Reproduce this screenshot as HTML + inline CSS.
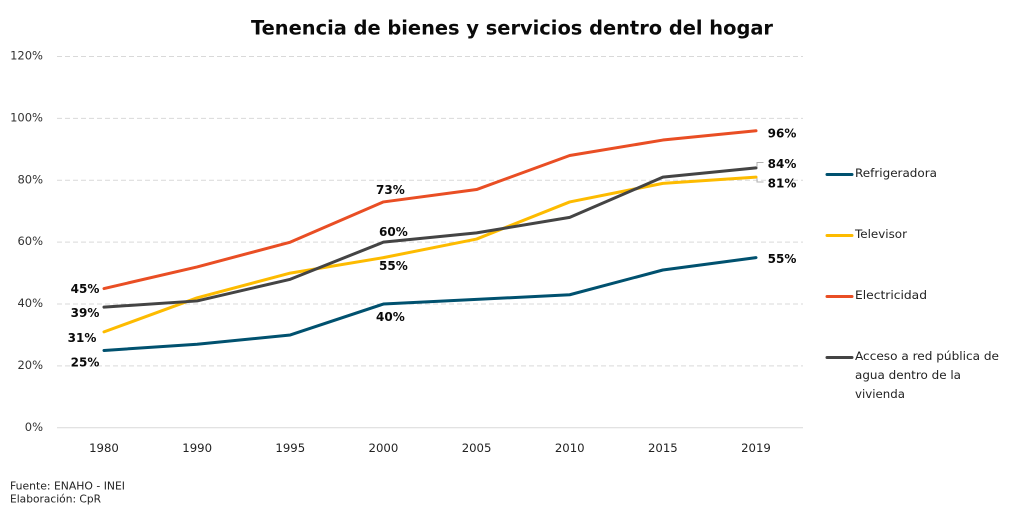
<!DOCTYPE html>
<html lang="es">
<head>
<meta charset="utf-8">
<title>Tenencia de bienes y servicios dentro del hogar</title>
<style>
html,body{margin:0;padding:0;background:#fff;}
svg{display:block;font-family:"DejaVu Sans","Liberation Sans",sans-serif;}
.legend-text{font-size:11.5px;fill:#222;}
.foot{font-size:10.5px;fill:#222;}
</style>
</head>
<body>
<svg id="chart" width="1021" height="511" viewBox="0 0 1021 511" xmlns="http://www.w3.org/2000/svg">
  <rect x="0" y="0" width="1021" height="511" fill="#ffffff"/>
  <text x="251" y="34.5" font-size="19.8" font-weight="700" fill="#0a0a0a" textLength="522" lengthAdjust="spacingAndGlyphs">Tenencia de bienes y servicios dentro del hogar</text>
  <g id="grid"></g>
  <g id="yticks"></g>
  <g id="xticks"></g>
  <g id="series"></g>
  <g id="labels"></g>
  <path d="M757 167V162.500H763.500" fill="none" stroke="#b0b0b0" stroke-width="1"/>
  <path d="M757 178V182H763.500" fill="none" stroke="#b0b0b0" stroke-width="1"/>
  <g>
    <g>
      <line x1="827" y1="174.500" x2="852" y2="174.500" stroke="#00516f" stroke-width="3" stroke-linecap="round"/>
      <text class="legend-text" x="855" y="177" textLength="82" lengthAdjust="spacingAndGlyphs">Refrigeradora</text>
    </g>
    <g>
      <line x1="827" y1="235.500" x2="852" y2="235.500" stroke="#fdbb00" stroke-width="3" stroke-linecap="round"/>
      <text class="legend-text" x="855" y="238" textLength="52" lengthAdjust="spacingAndGlyphs">Televisor</text>
    </g>
    <g>
      <line x1="827" y1="296.500" x2="852" y2="296.500" stroke="#e94e24" stroke-width="3" stroke-linecap="round"/>
      <text class="legend-text" x="855" y="299" textLength="72" lengthAdjust="spacingAndGlyphs">Electricidad</text>
    </g>
    <g>
      <line x1="827" y1="357.500" x2="852" y2="357.500" stroke="#444444" stroke-width="3" stroke-linecap="round"/>
      <text class="legend-text" x="855" y="360" textLength="144" lengthAdjust="spacingAndGlyphs">Acceso a red pública de</text>
      <text class="legend-text" x="855" y="379" textLength="106" lengthAdjust="spacingAndGlyphs">agua dentro de la</text>
      <text class="legend-text" x="855" y="398" textLength="50" lengthAdjust="spacingAndGlyphs">vivienda</text>
    </g>
  </g>
  <text class="foot" x="10" y="489.500" textLength="115" lengthAdjust="spacingAndGlyphs">Fuente: ENAHO - INEI</text>
  <text class="foot" x="10" y="502.500" textLength="91" lengthAdjust="spacingAndGlyphs">Elaboración: CpR</text>
</svg>
<script>
const categories = ["1980", "1990", "1995", "2000", "2005", "2010", "2015", "2019"];
const yTickValues = [0, 20, 40, 60, 80, 100, 120];
const refrigeradora = [25, 27, 30, 40, 41.5, 43, 51, 55];
const televisor = [31, 42, 50, 55, 61, 73, 79, 81];
const electricidad = [45, 52, 60, 73, 77, 88, 93, 96];
const agua = [39, 41, 48, 60, 63, 68, 81, 84];

const NS = 'http://www.w3.org/2000/svg';
function xScale(i) { return 104 + i * (756 - 104) / (categories.length - 1); }
function yScale(v) { return 427.8 - v * (427.8 - 56.5) / 120; }

const gridG = document.getElementById('grid');
const yG = document.getElementById('yticks');
const xG = document.getElementById('xticks');
const seriesG = document.getElementById('series');
const labelsG = document.getElementById('labels');

yTickValues.forEach(function (v) {
  const line = document.createElementNS(NS, 'line');
  
  
  line.setAttribute('x1', 57);
  line.setAttribute('x2', 803);
  line.setAttribute('y1', yScale(v));
  line.setAttribute('y2', yScale(v));
  line.setAttribute('stroke', '#d9d9d9');
  line.setAttribute('stroke-width', 1);
  if (v !== 0) line.setAttribute('stroke-dasharray', '5 3');
  gridG.appendChild(line);

  const t = document.createElementNS(NS, 'text');
  
  
  t.setAttribute('x', 43);
  t.setAttribute('y', yScale(v) + 3);
  t.setAttribute('text-anchor', 'end');
  t.setAttribute('font-size', 11.5);
  t.setAttribute('fill', '#333');
  t.textContent = v + '%';
  yG.appendChild(t);
});

categories.forEach(function (c, i) {
  const t = document.createElementNS(NS, 'text');
  
  
  t.setAttribute('x', xScale(i));
  t.setAttribute('y', 452);
  t.setAttribute('text-anchor', 'middle');
  t.setAttribute('font-size', 11.7);
  t.setAttribute('fill', '#222');
  t.textContent = c;
  xG.appendChild(t);
});

function drawLine(values, color, name) {
  const p = document.createElementNS(NS, 'polyline');
  
  
  p.setAttribute('points', values.map(function (v, i) { return xScale(i) + ',' + yScale(v); }).join(' '));
  p.setAttribute('fill', 'none');
  p.setAttribute('stroke', color);
  p.setAttribute('stroke-width', 3);
  p.setAttribute('stroke-linejoin', 'round');
  p.setAttribute('stroke-linecap', 'round');
  seriesG.appendChild(p);
}
drawLine(refrigeradora, '#00516f', 'line-refrigeradora');
drawLine(televisor, '#fdbb00', 'line-televisor');
drawLine(agua, '#444444', 'line-agua');
drawLine(electricidad, '#e94e24', 'line-electricidad');

function drawLabel(values, index, dx, dy) {
  const t = document.createElementNS(NS, 'text');
  
  
  t.setAttribute('x', xScale(index) + dx);
  t.setAttribute('y', yScale(values[index]) + dy);
  t.setAttribute('text-anchor', 'middle');
  t.setAttribute('font-size', 12);
  t.setAttribute('font-weight', 700);
  t.setAttribute('fill', '#0a0a0a');
  t.textContent = Math.round(values[index]) + '%';
  labelsG.appendChild(t);
}
drawLabel(electricidad, 0, -19, 4.5);
drawLabel(agua, 0, -19, 10);
drawLabel(televisor, 0, -22, 10);
drawLabel(refrigeradora, 0, -19, 16);
drawLabel(electricidad, 3, 7, -8);
drawLabel(agua, 3, 10, -6);
drawLabel(televisor, 3, 10, 12.5);
drawLabel(refrigeradora, 3, 7, 17);
drawLabel(electricidad, 7, 26, 6.5);
drawLabel(agua, 7, 26, 0);
drawLabel(televisor, 7, 26, 10.5);
drawLabel(refrigeradora, 7, 26, 5.5);
</script>
</body>
</html>
